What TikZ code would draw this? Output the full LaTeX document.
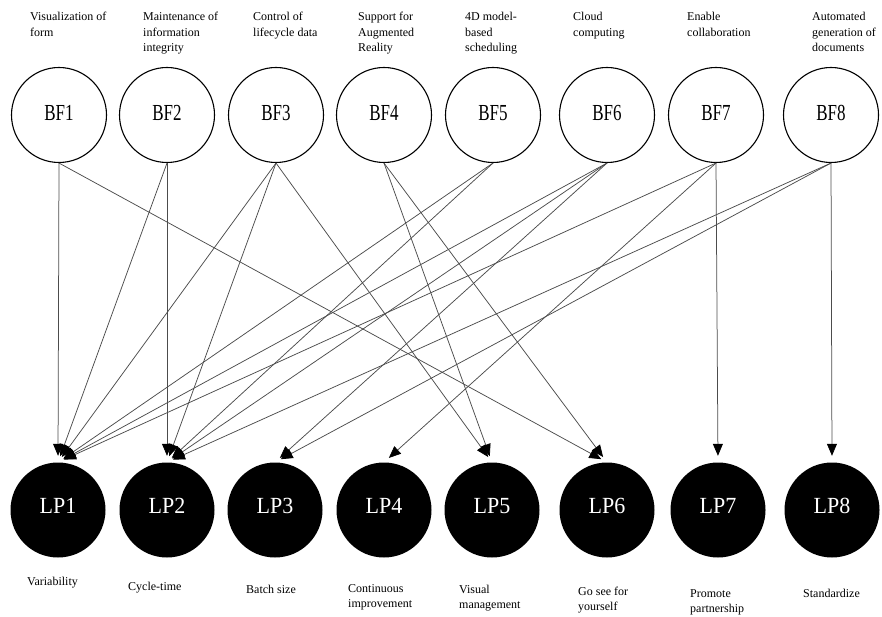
\documentclass[tikz,border=0pt]{standalone}
\usepackage{fontspec}
\usepackage{graphicx}
\setmainfont{Liberation Serif}
\usetikzlibrary{arrows.meta}
\newcommand\lblfont{\fontsize{12}{15.5}\selectfont}
\newcommand\bfcfont{\fontsize{17}{20}\selectfont}
\newcommand\lpcfont{\fontsize{22}{24}\selectfont}
\newcommand\ml[1]{\begin{tabular}[t]{@{}l@{}}#1\end{tabular}}
\begin{document}
\begin{tikzpicture}[x=1pt,y=-1pt,
  bfnode/.style={circle, draw=black, line width=1.1pt, minimum size=95pt, inner sep=0pt, font=\bfcfont},
  lpnode/.style={circle, fill=black, text=white, minimum size=95pt, inner sep=0pt, font=\lpcfont},
  lbl/.style={anchor=base west, inner sep=0pt, font=\lblfont},
  conn/.style={draw=black!70, line width=0.75pt, -{Triangle[length=12pt,width=10pt,color=black]}, shorten >=6.5pt}]
\useasboundingbox (0,0) rectangle (882,617);
% top labels
\node[lbl] (tl1) at (30,21) {\ml{Visualization of\\form}};
\node[lbl] (tl2) at (143,21) {\ml{Maintenance of\\information\\integrity}};
\node[lbl] (tl3) at (253,21) {\ml{Control of\\lifecycle data}};
\node[lbl] (tl4) at (358,21) {\ml{Support for\\Augmented\\Reality}};
\node[lbl] (tl5) at (465,21) {\ml{4D model-\\based\\scheduling}};
\node[lbl] (tl6) at (573,21) {\ml{Cloud\\computing}};
\node[lbl] (tl7) at (687,21) {\ml{Enable\\collaboration}};
\node[lbl] (tl8) at (812,21) {\ml{Automated\\generation of\\documents}};
% BF circles
\foreach \i/\x in {1/59,2/167,3/276,4/384,5/493,6/607,7/716,8/831}
  \node[bfnode] (bf\i) at (\x,115) {\raisebox{5pt}{\scalebox{1}[1.35]{BF\i}}};
% LP circles
\foreach \i/\x in {1/58,2/167,3/275,4/384,5/492,6/607,7/718,8/832}
  \node[lpnode] (lp\i) at (\x,510) {\raisebox{8pt}{\scalebox{1}[1.05]{LP\i}}};
% bottom labels
\node[lbl] (bl1) at (27,585) {\ml{Variability}};
\node[lbl] (bl2) at (128,590) {\ml{Cycle-time}};
\node[lbl] (bl3) at (246,593) {\ml{Batch size}};
\node[lbl] (bl4) at (348,592) {\ml{Continuous\\improvement}};
\node[lbl] (bl5) at (459,593) {\ml{Visual\\management}};
\node[lbl] (bl6) at (578,595) {\ml{Go see for\\yourself}};
\node[lbl] (bl7) at (690,597) {\ml{Promote\\partnership}};
\node[lbl] (bl8) at (803,597) {\ml{Standardize}};
% connectors
\foreach \s/\t in {1/1,1/6,2/1,2/2,3/1,3/2,3/5,4/5,4/6,5/1,5/2,6/1,6/2,6/3,7/1,7/4,7/7,8/2,8/3,8/8}
  \draw[conn] (bf\s.south) -- (lp\t.north);
\end{tikzpicture}
\end{document}
